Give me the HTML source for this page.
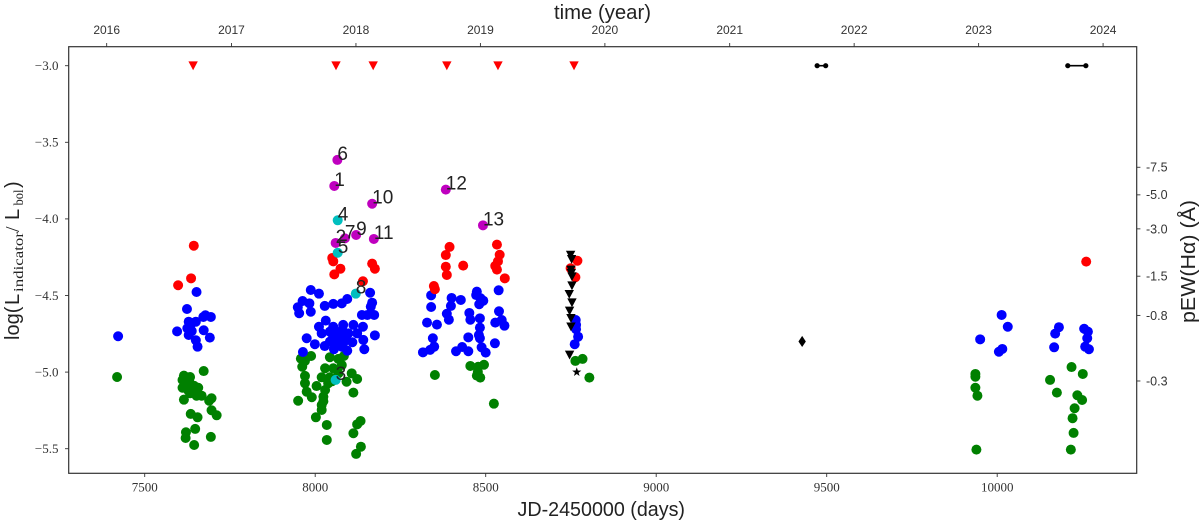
<!DOCTYPE html>
<html lang="en">
<head>
<meta charset="utf-8">
<title>log L indicator versus JD</title>
<style>
html,body{margin:0;padding:0;background:#fff;width:1200px;height:525px;overflow:hidden}
svg{display:block}
.tick{font-family:"Liberation Serif",serif;font-size:13px;fill:#333}
.sans{font-family:"Liberation Sans",sans-serif;fill:#222}
.year{font-size:12px;fill:#333}
.pew{font-size:12.5px;fill:#333}
.serif{font-family:"Liberation Serif",serif;fill:#222}
</style>
</head>
<body>
<svg id="chart" xmlns="http://www.w3.org/2000/svg" width="1200" height="525" viewBox="0 0 1200 525">
<rect x="0" y="0" width="1200" height="525" fill="#fff"/>
<g id="marks"></g>
<g id="annotations"></g>
<rect x="68.7" y="46.7" width="1068" height="426.6" fill="none" stroke="#333" stroke-width="1.2"/>
<g id="ticks"></g>
<text class="sans" x="554" y="19" font-size="20" textLength="97" lengthAdjust="spacingAndGlyphs">time (year)</text>
<text class="sans" x="517.5" y="516" font-size="20" textLength="167.5" lengthAdjust="spacingAndGlyphs">JD-2450000 (days)</text>
<g transform="rotate(-90)">
<text class="sans" x="-340" y="19" font-size="20">log(</text>
<text class="sans" x="-305" y="19" font-size="20">L</text>
<text class="serif" x="-292" y="23" font-size="14" textLength="60" lengthAdjust="spacingAndGlyphs">indicator</text>
<text class="serif" x="-232" y="19" font-size="20" font-weight="normal">/</text>
<text class="sans" x="-220" y="19" font-size="20">L</text>
<text class="serif" x="-205.5" y="23" font-size="14" textLength="16" lengthAdjust="spacingAndGlyphs">bol</text>
<text class="sans" x="-188" y="19" font-size="20">)</text>
</g>
<text class="sans" transform="rotate(-90)" x="-323" y="1195" font-size="20" textLength="123" lengthAdjust="spacingAndGlyphs">pEW(Hα) (Å)</text>
</svg>
<script>
const xTickValues = [7500, 8000, 8500, 9000, 9500, 10000];
const yTickValues = [-3.0, -3.5, -4.0, -4.5, -5.0, -5.5];
const yearLabels = ['2016', '2017', '2018', '2019', '2020', '2021', '2022', '2023', '2024'];
const yearDays = [7388.5, 7754.5, 8119.5, 8484.5, 8849.5, 9215.5, 9580.5, 9945.5, 10310.5];
const pewLabels = ['-7.5', '-5.0', '-3.0', '-1.5', '-0.8', '-0.3'];
const pewTickLogL = [-3.663, -3.843, -4.065, -4.374, -4.630, -5.058];

const greenDays = [7419,7673,7615,7633,7611,7625,7611,7638,7657,7628,7643,7652,7667,7696,7689,7615,7633,7696,7711,7635,7655,7648,7621,7620,7694,7645,7630,7645,
7988,7958,7970,7962,8043,8068,8084,8078,8029,8053,7970,8019,8043,8068,8107,8123,8092,7970,8004,8038,8029,7975,8112,7990,8024,7950,8019,8019,8002,8034,8133,8123,8112,8034,8134,8120,8024,8049,
8455,8495,8478,8474,8484,8477,8351,8524,8763,8784,8804,
9936,9936,9936,9942,9939,10218,10251,10155,10175,10235,10249,10227,10221,10224,10216];
const greenLogL = [-5.032,-4.993,-5.023,-5.032,-5.051,-5.069,-5.102,-5.084,-5.102,-5.121,-5.128,-5.154,-5.154,-5.171,-5.187,-5.180,-5.138,-5.249,-5.282,-5.273,-5.295,-5.371,-5.393,-5.430,-5.423,-5.476,-5.050,-5.090,
-4.895,-4.912,-4.927,-4.965,-4.903,-4.914,-4.895,-4.954,-4.975,-4.975,-5.025,-5.034,-5.034,-5.008,-5.008,-5.045,-5.063,-5.073,-5.091,-5.073,-5.117,-5.128,-5.134,-5.164,-5.160,-5.187,-5.215,-5.247,-5.295,-5.345,-5.319,-5.341,-5.399,-5.443,-5.487,-5.534,-5.190,-5.060,
-4.960,-4.952,-4.965,-5.023,-5.036,-4.999,-5.019,-5.206,-4.927,-4.914,-5.036,
-5.012,-5.030,-5.102,-5.154,-5.506,-4.967,-5.012,-5.051,-5.134,-5.151,-5.182,-5.236,-5.301,-5.397,-5.506];

const redDays = [7644,7636,7598,8050,8053,8074,8056,8167,8175,8140,8394,8383,8383,8386,8434,8348,8351,8533,8541,8536,8528,8533,8556,8769,8749,8763,10261];
const redLogL = [-4.175,-4.388,-4.433,-4.255,-4.277,-4.325,-4.362,-4.292,-4.325,-4.407,-4.183,-4.236,-4.312,-4.366,-4.305,-4.438,-4.459,-4.168,-4.234,-4.277,-4.307,-4.331,-4.388,-4.273,-4.322,-4.381,-4.279];

const blueDays = [7422,7652,7624,7678,7694,7672,7629,7650,7633,7625,7595,7673,7638,7629,7691,7650,7655,
7987,8011,7963,7983,7949,7953,7987,8028,8053,8078,8094,8161,8167,8163,8137,8153,8173,8031,8011,8019,8053,8082,8112,8140,8123,8175,8141,8144,7975,7999,8028,8055,8094,7964,8043,8063,8082,8097,8053,8073,8092,8043,8063,8082,8109,8058,8078,
8340,8340,8328,8357,8400,8427,8398,8386,8392,8345,8316,8337,8349,8413,8431,8449,8449,8452,8455,8474,8472,8485,8493,8481,8483,8483,8480,8483,8488,8500,8527,8538,8539,8547,8528,8555,
8764,8765,8765,8771,8761,
10013,10031,9950,10015,10005,10181,10170,10167,10255,10266,10264,10258,10269];
const blueLogL = [-4.766,-4.477,-4.588,-4.629,-4.640,-4.640,-4.671,-4.671,-4.704,-4.714,-4.734,-4.727,-4.732,-4.758,-4.775,-4.792,-4.834,
-4.464,-4.488,-4.536,-4.551,-4.577,-4.616,-4.606,-4.568,-4.555,-4.551,-4.523,-4.482,-4.547,-4.573,-4.627,-4.627,-4.627,-4.664,-4.704,-4.747,-4.704,-4.692,-4.692,-4.704,-4.747,-4.760,-4.790,-4.851,-4.779,-4.818,-4.830,-4.851,-4.860,-4.869,-4.736,-4.736,-4.736,-4.747,-4.769,-4.769,-4.790,-4.801,-4.801,-4.812,-4.805,-4.823,-4.834,
-4.499,-4.575,-4.677,-4.690,-4.516,-4.529,-4.568,-4.619,-4.658,-4.779,-4.871,-4.855,-4.834,-4.864,-4.836,-4.864,-4.773,-4.614,-4.658,-4.475,-4.497,-4.518,-4.534,-4.557,-4.649,-4.710,-4.758,-4.779,-4.838,-4.873,-4.812,-4.466,-4.603,-4.660,-4.677,-4.697,
-4.660,-4.692,-4.720,-4.769,-4.818,
-4.627,-4.704,-4.786,-4.849,-4.867,-4.707,-4.749,-4.838,-4.717,-4.736,-4.779,-4.834,-4.851];

const purpleIds = ['6','1','10','9','7','11','2','12','13'];
const purpleDays = [8065,8056,8167,8120,8087,8172,8060,8383,8492];
const purpleLogL = [-3.615,-3.785,-3.901,-4.105,-4.127,-4.131,-4.157,-3.809,-4.042];

const cyanIds = ['4','5','8','3'];
const cyanDays = [8066,8066,8119,8060];
const cyanLogL = [-4.009,-4.221,-4.488,-5.051];

const limitDays = [7642,8061,8170,8386,8536,8759];
const limitLogL = [-3,-3,-3,-3,-3,-3];

const blackTriangleDays = [8749,8752,8750,8751,8753,8753,8745,8753,8746,8750,8750,8746];
const blackTriangleLogL = [-4.236,-4.264,-4.333,-4.355,-4.377,-4.436,-4.492,-4.547,-4.601,-4.649,-4.704,-4.888];

const starDay = [8767];
const starLogL = [-5.0];
const diamondDay = [9428];
const diamondLogL = [-4.80];

const rangeStartDays = [9472,10207];
const rangeEndDays = [9497,10260];
const rangeLogL = [-3,-3];

function xAxis(d){ return 315.2 + (d - 8000) * 0.341; }
function yAxis(v){ return 65.7 + (-3 - v) * 153.2; }

const NS = 'http://www.w3.org/2000/svg';
const marks = document.getElementById('marks');
const ann = document.getElementById('annotations');
const ticks = document.getElementById('ticks');

function dot(parent, d, v, r, color){
  const c = document.createElementNS(NS, 'circle');
  c.setAttribute('cx', xAxis(d));
  c.setAttribute('cy', yAxis(v));
  c.setAttribute('r', r);
  c.setAttribute('fill', color);
  parent.appendChild(c);
  return c;
}
function poly(parent, pts, color){
  const p = document.createElementNS(NS, 'polygon');
  p.setAttribute('points', pts.map(function(q){ return q[0].toFixed(2) + ',' + q[1].toFixed(2); }).join(' '));
  p.setAttribute('fill', color);
  parent.appendChild(p);
  return p;
}
function triangle(parent, d, v, color){
  const cx = xAxis(d), cy = yAxis(v);
  return poly(parent, [[cx - 4.7, cy - 4.3], [cx + 4.7, cy - 4.3], [cx, cy + 4.5]], color);
}
function line(parent, x1, y1, x2, y2, color, w){
  const l = document.createElementNS(NS, 'line');
  l.setAttribute('x1', x1);
  l.setAttribute('y1', y1);
  l.setAttribute('x2', x2);
  l.setAttribute('y2', y2);
  l.setAttribute('stroke', color);
  l.setAttribute('stroke-width', w);
  parent.appendChild(l);
  return l;
}
function label(parent, x, y, txt, cls, anchor){
  const t = document.createElementNS(NS, 'text');
  t.setAttribute('x', x);
  t.setAttribute('y', y);
  t.setAttribute('class', cls);
  t.setAttribute('text-anchor', anchor);
  t.textContent = txt;
  parent.appendChild(t);
  return t;
}

greenDays.forEach(function(d, i){
  const el = dot(marks, d, greenLogL[i], 5, '#008000');
  
  
});
blueDays.forEach(function(d, i){
  const el = dot(marks, d, blueLogL[i], 5, '#0000ff');
  
  
});
redDays.forEach(function(d, i){
  const el = dot(marks, d, redLogL[i], 5, '#ff0000');
  
  
});
purpleDays.forEach(function(d, i){
  const el = dot(marks, d, purpleLogL[i], 5, '#bf00bf');
  
  
  const t = label(ann, xAxis(d), yAxis(purpleLogL[i]), purpleIds[i], 'sans', 'start');
  t.setAttribute('font-size', '19');
  
  
});
cyanDays.forEach(function(d, i){
  const el = dot(marks, d, cyanLogL[i], 5, '#00bfbf');
  
  
  const t = label(ann, xAxis(d), yAxis(cyanLogL[i]), cyanIds[i], 'sans', 'start');
  t.setAttribute('font-size', '19');
  
  
});
limitDays.forEach(function(d, i){
  const el = triangle(marks, d, limitLogL[i], '#ff0000');
  
  
});
blackTriangleDays.forEach(function(d, i){
  const el = triangle(marks, d, blackTriangleLogL[i], '#000000');
  
  
});
starDay.forEach(function(d, i){
  const cx = xAxis(d), cy = yAxis(starLogL[i]);
  const pts = [];
  for (let k = 0; k < 10; k++) {
    const r = k % 2 ? 1.9 : 4.8;
    const a = -Math.PI / 2 + k * Math.PI / 5;
    pts.push([cx + r * Math.cos(a), cy + r * Math.sin(a)]);
  }
  const el = poly(marks, pts, '#000000');
  
  
});
diamondDay.forEach(function(d, i){
  const cx = xAxis(d), cy = yAxis(diamondLogL[i]);
  const el = poly(marks, [[cx, cy - 5.6], [cx + 3.7, cy], [cx, cy + 5.6], [cx - 3.7, cy]], '#000000');
  
  
});
rangeStartDays.forEach(function(d, i){
  const y0 = yAxis(rangeLogL[i]);
  const seg = line(marks, xAxis(d), y0, xAxis(rangeEndDays[i]), y0, '#000000', 1.6);
  
  
  const a = dot(marks, d, rangeLogL[i], 2.6, '#000000');
  
  
  const b = dot(marks, rangeEndDays[i], rangeLogL[i], 2.6, '#000000');
  
  
});

xTickValues.forEach(function(v){
  const x = xAxis(v);
  const m = line(ticks, x, 473.3, x, 477, '#333', 0.9);
  
  
  const t = label(ticks, x, 491.7, String(v), 'tick', 'middle');
  
  
});
yTickValues.forEach(function(v){
  const y = yAxis(v);
  const m = line(ticks, 65, y, 68.7, y, '#333', 0.9);
  
  
  const t = label(ticks, 58.5, y + 4.3, '\u2212' + Math.abs(v).toFixed(1), 'tick', 'end');
  
  
});
yearDays.forEach(function(d, i){
  const x = xAxis(d);
  const m = line(ticks, x, 43, x, 46.7, '#333', 0.9);
  
  
  const t = label(ticks, x, 34, yearLabels[i], 'sans year', 'middle');
  
  
});
pewTickLogL.forEach(function(v, i){
  const y = yAxis(v);
  const m = line(ticks, 1136.7, y, 1140.4, y, '#333', 0.9);
  
  
  const t = label(ticks, 1146, y + 4.4, pewLabels[i], 'sans pew', 'start');
  
  
});
</script>
</body>
</html>
